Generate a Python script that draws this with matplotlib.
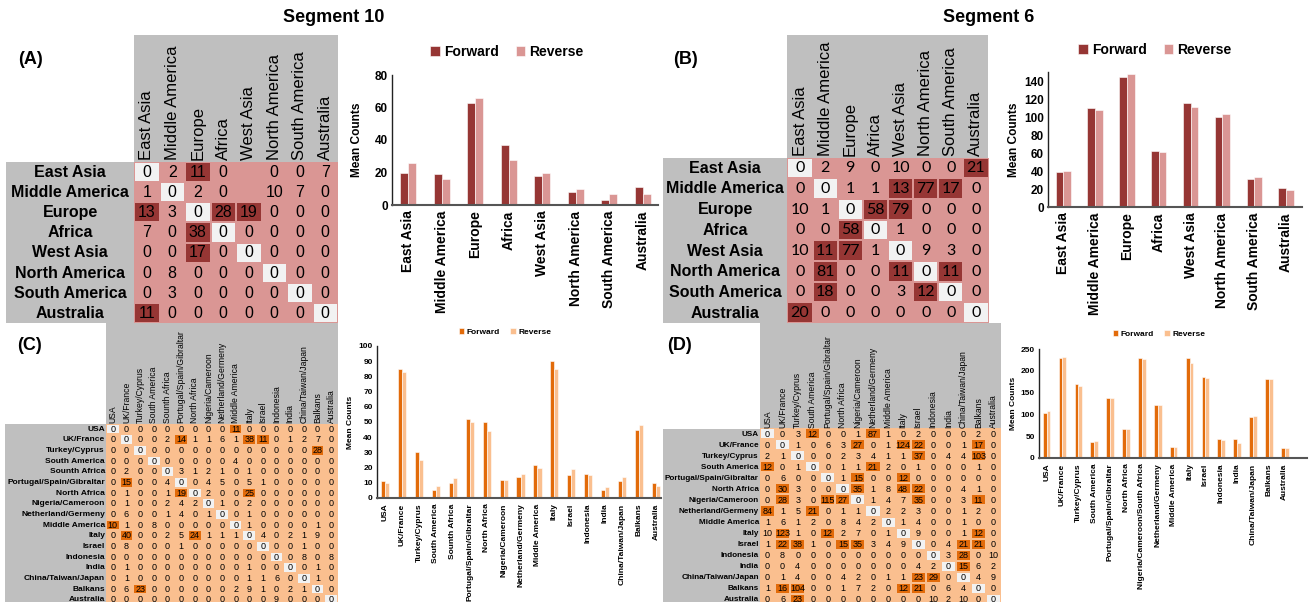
import matplotlib
matplotlib.use('Agg')
import matplotlib.pyplot as plt
from matplotlib.colors import ListedColormap
from matplotlib.patches import Rectangle
import numpy as np

plt.rcParams['font.family'] = ['Liberation Sans', 'DejaVu Sans']

# ---------------- data ----------------
regions8 = ['East Asia', 'Middle America', 'Europe', 'Africa', 'West Asia',
            'North America', 'South America', 'Australia']

seg10_mat = [
    [0, 2, 11, 0, None, 0, 0, 7],
    [1, 0, 2, 0, None, 10, 7, 0],
    [13, 3, 0, 28, 19, 0, 0, 0],
    [7, 0, 38, 0, 0, 0, 0, 0],
    [0, 0, 17, 0, 0, 0, 0, 0],
    [0, 8, 0, 0, 0, 0, 0, 0],
    [0, 3, 0, 0, 0, 0, 0, 0],
    [11, 0, 0, 0, 0, 0, 0, 0],
]
seg10_fwd = [20, 19, 63, 37, 18, 8, 3, 11]
seg10_rev = [26, 16, 66, 28, 20, 10, 7, 7]

seg6_mat = [
    [0, 2, 9, 0, 10, 0, 0, 21],
    [0, 0, 1, 1, 13, 77, 17, 0],
    [10, 1, 0, 58, 79, 0, 0, 0],
    [0, 0, 58, 0, 1, 0, 0, 0],
    [10, 11, 77, 1, 0, 9, 3, 0],
    [0, 81, 0, 0, 11, 0, 11, 0],
    [0, 18, 0, 0, 3, 12, 0, 0],
    [20, 0, 0, 0, 0, 0, 0, 0],
]
seg6_fwd = [39, 110, 145, 62, 116, 100, 31, 21]
seg6_rev = [40, 108, 148, 61, 111, 103, 33, 19]

countries_c = ['USA', 'UK/France', 'Turkey/Cyprus', 'South America', 'Sounth Africa',
               'Portugal/Spain/Gibraltar', 'North Africa', 'Nigeria/Cameroon',
               'Netherland/Germeny', 'Middle America', 'Italy', 'Israel', 'Indonesia',
               'India', 'China/Taiwan/Japan', 'Balkans', 'Australia']
seg10_cmat = [
    [0, 0, 0, 0, 0, 0, 0, 0, 0, 11, 0, 0, 0, 0, 0, 0, 0],
    [0, 0, 0, 0, 2, 14, 1, 1, 6, 1, 38, 11, 0, 1, 2, 7, 0],
    [0, 0, 0, 0, 0, 0, 0, 0, 0, 0, 0, 0, 0, 0, 0, 28, 0],
    [0, 0, 0, 0, 0, 0, 0, 0, 0, 4, 0, 0, 0, 0, 0, 0, 0],
    [0, 2, 0, 0, 0, 3, 1, 2, 1, 0, 1, 0, 0, 0, 0, 0, 0],
    [0, 15, 0, 0, 4, 0, 0, 4, 5, 0, 5, 1, 0, 0, 0, 0, 0],
    [0, 1, 0, 0, 1, 19, 0, 2, 0, 0, 25, 0, 0, 0, 0, 0, 0],
    [0, 1, 0, 0, 2, 4, 2, 0, 1, 0, 2, 0, 0, 0, 0, 0, 0],
    [0, 6, 0, 0, 1, 4, 0, 1, 0, 0, 1, 0, 0, 0, 0, 0, 0],
    [10, 1, 0, 8, 0, 0, 0, 0, 0, 0, 1, 0, 0, 0, 0, 1, 0],
    [0, 40, 0, 0, 2, 5, 24, 1, 1, 1, 0, 4, 0, 2, 1, 9, 0],
    [0, 8, 0, 0, 0, 1, 0, 0, 0, 0, 0, 0, 0, 0, 1, 0, 0],
    [0, 0, 0, 0, 0, 0, 0, 0, 0, 0, 0, 0, 0, 0, 8, 0, 8],
    [0, 1, 0, 0, 0, 0, 0, 0, 0, 0, 1, 0, 0, 0, 0, 1, 0],
    [0, 1, 0, 0, 0, 0, 0, 0, 0, 0, 1, 1, 6, 0, 0, 1, 0],
    [0, 6, 23, 0, 0, 0, 0, 0, 0, 2, 9, 1, 0, 2, 1, 0, 0],
    [0, 0, 0, 0, 0, 0, 0, 0, 0, 0, 0, 0, 9, 0, 0, 0, 0],
]
seg10_cfwd = [11, 85, 30, 5, 10, 52, 50, 12, 14, 22, 90, 15, 16, 5, 11, 45, 10]
seg10_crev = [10, 83, 25, 8, 13, 50, 44, 12, 16, 20, 85, 19, 15, 7, 14, 48, 8]

countries_d = ['USA', 'UK/France', 'Turkey/Cyprus', 'South America',
               'Portugal/Spain/Gibraltar', 'North Africa', 'Nigeria/Cameroon',
               'Netherland/Germeny', 'Middle America', 'Italy', 'Israel', 'Indonesia',
               'India', 'China/Taiwan/Japan', 'Balkans', 'Australia']
countries_d_bar = ['USA', 'UK/France', 'Turkey/Cyprus', 'South America',
                   'Portugal/Spain/Gibraltar', 'North Africa',
                   'Nigeria/Cameroon/South Africa', 'Netherland/Germeny',
                   'Middle America', 'Italy', 'Israel', 'Indonesia', 'India',
                   'China/Taiwan/Japan', 'Balkans', 'Australia']
seg6_cmat = [
    [0, 0, 3, 12, 0, 0, 1, 87, 1, 0, 2, 0, 0, 0, 2, 0],
    [0, 0, 1, 0, 6, 3, 27, 0, 1, 124, 22, 0, 0, 1, 17, 0],
    [2, 1, 0, 0, 0, 2, 3, 4, 1, 1, 37, 0, 4, 4, 103, 0],
    [12, 0, 1, 0, 0, 1, 1, 21, 2, 0, 1, 0, 0, 0, 1, 0],
    [0, 6, 0, 0, 0, 1, 15, 0, 0, 12, 0, 0, 0, 0, 0, 0],
    [0, 30, 3, 0, 0, 0, 35, 1, 8, 48, 22, 0, 0, 4, 1, 0],
    [0, 28, 3, 0, 115, 27, 0, 1, 4, 7, 35, 0, 0, 3, 11, 0],
    [84, 1, 5, 21, 0, 1, 1, 0, 2, 2, 3, 0, 0, 1, 2, 0],
    [1, 6, 1, 2, 0, 8, 4, 2, 0, 1, 4, 0, 0, 1, 0, 0],
    [10, 123, 1, 0, 12, 2, 7, 0, 1, 0, 9, 0, 0, 1, 12, 0],
    [1, 22, 38, 1, 0, 15, 35, 3, 4, 9, 0, 0, 4, 21, 21, 0],
    [0, 8, 0, 0, 0, 0, 0, 0, 0, 0, 0, 0, 3, 28, 0, 10],
    [0, 0, 4, 0, 0, 0, 0, 0, 0, 0, 4, 2, 0, 15, 6, 2],
    [0, 1, 4, 0, 0, 4, 2, 0, 1, 1, 23, 29, 0, 0, 4, 9],
    [1, 16, 104, 0, 0, 1, 7, 2, 0, 12, 21, 0, 6, 4, 0, 0],
    [0, 6, 23, 0, 0, 0, 0, 0, 0, 0, 0, 10, 2, 10, 0, 0],
]
seg6_cfwd = [104, 230, 169, 37, 137, 66, 230, 122, 26, 229, 185, 43, 43, 93, 181, 22]
seg6_crev = [107, 232, 164, 40, 138, 67, 228, 121, 25, 217, 184, 42, 34, 96, 181, 22]

# ---------------- styling ----------------
RED_DARK, RED_LIGHT = '#963634', '#DA9694'
ORG_DARK, ORG_LIGHT = '#E26B0A', '#FABF8F'
DIAG = '#F2F2F2'
GREY = '#BFBFBF'

W, H = 1314, 602
fig = plt.figure(figsize=(W / 100, H / 100), dpi=100)


def px_axes(x0, y0, x1, y1):
    return fig.add_axes([x0 / W, 1 - y1 / H, (x1 - x0) / W, (y1 - y0) / H])


def grey_box(x0, y0, x1, y1):
    fig.add_artist(Rectangle((x0 / W, 1 - y1 / H), (x1 - x0) / W, (y1 - y0) / H,
                             transform=fig.transFigure, facecolor=GREY,
                             edgecolor='none', zorder=0))


def draw_matrix(vals, rows, cols, box, head_top, lab_left, dark_from, light, dark,
                num_fs, lab_fs, head_fs, centered, num_family=None):
    x0, y0, x1, y1 = box
    nr, nc = len(rows), len(cols)
    grey_box(x0, head_top, x1, y0)
    grey_box(lab_left, y0, x0, min(y1, H))
    ax = px_axes(x0, y0, x1, y1)
    v = np.array([[np.nan if c is None else c for c in r] for r in vals], float)
    cat = np.where(np.nan_to_num(v) >= dark_from, 1, 0)
    np.fill_diagonal(cat, 2)
    ax.pcolormesh(cat, cmap=ListedColormap([light, dark, DIAG]), vmin=-0.5, vmax=2.5,
                  edgecolors=light, linewidth=0.3)
    ax.set_xlim(0, nc)
    ax.set_ylim(nr, 0)
    ax.axis('off')
    for i in range(nr):
        for j in range(nc):
            if not np.isnan(v[i, j]):
                ax.text(j + 0.5, i + 0.52, f'{int(v[i, j])}', ha='center', va='center',
                        fontsize=num_fs, family=num_family)
    cw = (x1 - x0) / nc
    for j, name in enumerate(cols):
        ax.text(j + 0.5, -0.08, name, rotation=90, ha='center', va='bottom',
                fontsize=head_fs)
    for i, name in enumerate(rows):
        if centered:
            ax.text(-(x0 - lab_left) / 2 / cw, i + 0.52, name, ha='center', va='center',
                    fontsize=lab_fs, fontweight='bold')
        else:
            ax.text(-0.08, i + 0.52, name, ha='right', va='center',
                    fontsize=lab_fs, fontweight='bold')
    return ax


def draw_bars(cats, fwd, rev, box, ymax, ystep, xright, c_f, c_r, tick_fs, xlab_fs,
              leg_xy, leg_fs, ylab_x, ylab_fs):
    x0, y0, x1, y1 = box
    ax = px_axes(x0, y0, x1, y1)
    x = np.arange(len(cats))
    w = 0.24
    ax.bar(x - w / 2, fwd, w, color=c_f, edgecolor='white', linewidth=0.4, label='Forward')
    ax.bar(x + w / 2, rev, w, color=c_r, edgecolor='white', linewidth=0.4, label='Reverse')
    ax.set_xlim(-0.48, xright)
    ax.set_ylim(0, ymax)
    ax.set_yticks(np.arange(0, ymax + 0.1, ystep))
    ax.set_xticks(x)
    ax.set_xticklabels(cats, rotation=90, fontsize=xlab_fs, fontweight='bold')
    for t in ax.get_yticklabels():
        t.set_fontsize(tick_fs)
        t.set_fontweight('bold')
    ax.tick_params(axis='both', length=0, pad=3)
    ax.tick_params(axis='x', pad=4)
    for s in ('top', 'right'):
        ax.spines[s].set_visible(False)
    ax.spines['left'].set_color('#222222')
    ax.spines['left'].set_linewidth(1.0)
    ax.spines['bottom'].set_color('#555555')
    ax.spines['bottom'].set_linewidth(1.5)
    ax.set_ylabel('Mean Counts', fontsize=ylab_fs, fontweight='bold')
    ax.yaxis.set_label_coords(ylab_x / W, 1 - (y0 + y1) / 2 / H, transform=fig.transFigure)
    ax.legend(ncol=2, loc='center', bbox_to_anchor=(leg_xy[0] / W, 1 - leg_xy[1] / H),
              bbox_transform=fig.transFigure, frameon=False,
              prop=dict(weight='bold', size=leg_fs), handlelength=0.7,
              handleheight=0.7, handletextpad=0.3, columnspacing=1.2)
    return ax


# ---------------- titles ----------------
fig.text(334 / W, 1 - 18 / H, 'Segment 10', ha='center', va='center',
         fontsize=13, fontweight='bold')
fig.text(989 / W, 1 - 18 / H, 'Segment 6', ha='center', va='center',
         fontsize=13, fontweight='bold')
for lab, xx, yy in [('(A)', 18, 60), ('(B)', 673, 60), ('(C)', 17, 346), ('(D)', 667, 346)]:
    fig.text(xx / W, 1 - yy / H, lab, ha='left', va='center', fontsize=13,
             fontweight='bold')

# ---------------- panel A ----------------
draw_matrix(seg10_mat, regions8, regions8, (134, 162, 338, 323), 35, 6, 11,
            RED_LIGHT, RED_DARK, 11.5, 11.5, 12, True)
draw_bars(regions8, seg10_fwd, seg10_rev, (392, 75, 658, 205), 80, 20, 7.45,
          RED_DARK, RED_LIGHT, 8.5, 10, (507, 52), 10, 363, 8.6)

# ---------------- panel B ----------------
draw_matrix(seg6_mat, regions8, regions8, (787.5, 157.5, 988.5, 323), 35, 663, 11,
            RED_LIGHT, RED_DARK, 11.5, 11.5, 12, True, num_family='Lato')
draw_bars(regions8, seg6_fwd, seg6_rev, (1048, 72, 1302, 207), 150, 20, 7.5,
          RED_DARK, RED_LIGHT, 8.5, 10, (1155, 50), 10, 1020, 8.6)

# ---------------- panel C ----------------
draw_matrix(seg10_cmat, countries_c, countries_c, (106, 423.7, 338, 605.1), 323, 5, 10,
            ORG_LIGHT, ORG_DARK, 6.5, 6, 6.2, False)
draw_bars(countries_c, seg10_cfwd, seg10_crev, (377, 346, 661, 498), 100, 10, 16.3,
          ORG_DARK, ORG_LIGHT, 6, 6, (505, 332), 6, 354, 6)

# ---------------- panel D ----------------
draw_matrix(seg6_cmat, countries_d, countries_d, (760, 428.5, 1001, 604.5), 323, 663, 11,
            ORG_LIGHT, ORG_DARK, 6.5, 5.9, 6.2, False)
draw_bars(countries_d_bar, seg6_cfwd, seg6_crev, (1039, 349, 1307, 458), 250, 50, 16.4,
          ORG_DARK, ORG_LIGHT, 6, 6, (1159, 334), 6, 1017, 6)

fig.savefig('out.png', dpi=100)
